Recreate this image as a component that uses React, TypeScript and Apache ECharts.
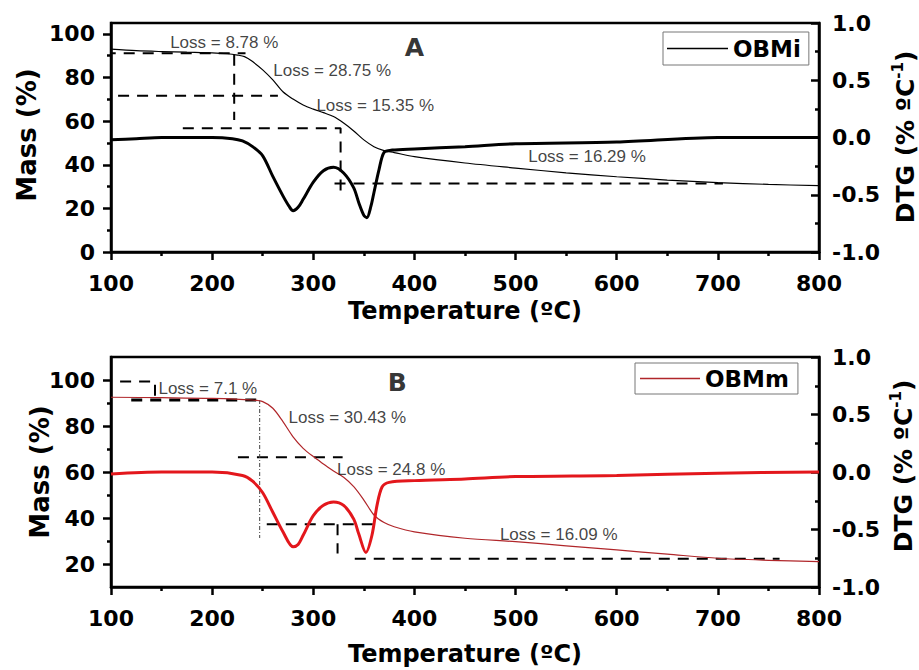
import React, { useEffect, useRef } from "react";
import * as echarts from "echarts";

// ---------- data ----------
const tempMin = 100;
const tempMax = 800;

// Panel A – OBMi
const tgA: [number, number][] = [
  [100, 93.0], [125, 92.3], [150, 91.9], [175, 91.6], [200, 91.3], [215, 90.9], [225, 90.3],
  [232, 89.6], [240, 87.3], [250, 83.5], [260, 78.9], [270, 73.5], [280, 70.1], [290, 67.4],
  [300, 65.5], [310, 63.9], [320, 62.1], [330, 59.1], [340, 55.5], [350, 51.4], [360, 48.3],
  [370, 46.5], [380, 45.6], [400, 43.7], [450, 40.8], [500, 38.5], [550, 36.3], [600, 34.5],
  [650, 33.0], [700, 31.8], [750, 31.0], [800, 30.4],
];
const dtgA: [number, number][] = [
  [100, -0.02], [125, -0.01], [150, 0.0], [175, 0.0], [200, 0.0], [220, -0.01], [230, -0.03],
  [240, -0.08], [250, -0.16], [260, -0.34], [270, -0.51], [276, -0.6], [280, -0.64], [285, -0.61],
  [290, -0.54], [300, -0.39], [310, -0.29], [320, -0.26], [330, -0.31], [340, -0.44], [345, -0.57],
  [350, -0.68], [353, -0.7], [357, -0.6], [360, -0.48], [365, -0.28], [370, -0.13], [378, -0.11],
  [400, -0.1], [450, -0.08], [500, -0.055], [600, -0.04], [700, 0.0], [800, 0.0],
];

// Panel B – OBMm
const tgB: [number, number][] = [
  [100, 92.5], [150, 92.3], [200, 92.0], [240, 91.3], [250, 90.6], [260, 87.7], [270, 81.9],
  [280, 75.3], [290, 70.3], [300, 66.7], [310, 63.5], [320, 60.4], [330, 57.7], [340, 53.6],
  [350, 47.8], [360, 41.3], [370, 38.0], [380, 36.2], [400, 34.0], [450, 31.2], [500, 29.7],
  [550, 27.9], [600, 26.1], [650, 24.3], [700, 22.5], [750, 21.6], [800, 21.0],
];
const dtgB: [number, number][] = [
  [100, -0.017], [150, 0.0], [200, 0.0], [230, -0.03], [240, -0.08], [250, -0.18], [260, -0.35],
  [270, -0.52], [280, -0.65], [285, -0.63], [290, -0.55], [300, -0.38], [310, -0.29], [320, -0.26],
  [330, -0.29], [340, -0.41], [345, -0.54], [352, -0.7], [358, -0.55], [363, -0.29], [368, -0.13],
  [375, -0.09], [400, -0.075], [450, -0.06], [500, -0.04], [600, -0.03], [700, -0.01], [800, 0.0],
];

// step-construction lines (temperature, mass %)
const guidesA: [number, number][][] = [
  [[75, 91.1], [233, 91.1]],
  [[221.8, 90.4], [221.8, 60.5]],
  [[107, 71.6], [265, 71.6]],
  [[171, 56.7], [327, 56.7], [327, 27.7]],
  [[321, 31.4], [705, 31.4]],
];
const strikeA: [number, number][] = [[37.7, 100], [100, 100]];
const guidesB: [number, number][][] = [
  [[109, 99.3], [143.5, 99.3], [143.5, 91.3]],
  [[225.5, 66.4], [329, 66.4]],
  [[254, 37.3], [366, 37.3]],
  [[324, 37.3], [324, 24.6]],
  [[341, 22.3], [761, 22.3]],
];
const guideB2: [number, number][] = [[120, 91.3], [247, 91.3]];
const dashDotB: [number, number][] = [[247, 91.3], [247, 31.3]];

// annotations [temperature, mass, text]
const lossA: [number, number, string][] = [
  [158, 95.9, "Loss = 8.78 %"],
  [260, 83.0, "Loss = 28.75 %"],
  [302.6, 67.4, "Loss = 15.35 %"],
  [512, 43.6, "Loss = 16.29 %"],
];
const lossB: [number, number, string][] = [
  [146.4, 96.1, "Loss = 7.1 %"],
  [275, 83.9, "Loss = 30.43 %"],
  [323, 60.9, "Loss = 24.8 %"],
  [484, 33.0, "Loss = 16.09 %"],
];
const panelA: [number, number, string][] = [[400, 93.6, "A"]];
const panelB: [number, number, string][] = [[383, 99.1, "B"]];

const massTicksA = [0, 20, 40, 60, 80, 100];
const massMinorA = [10, 30, 50, 70, 90];
const massTicksB = [20, 40, 60, 80, 100];
const massMinorB = [30, 50, 70, 90];

// ---------- styles ----------
const BOLD_FAMILY = "DejaVu Sans";
const tickFont = { fontFamily: BOLD_FAMILY, fontWeight: "bold" as const, fontSize: 22, color: "#000" };
const axisLineStyle = { color: "#000", width: 2.5 };

function xAxisFor(i: number, gap: number) {
  return {
    type: "value",
    gridIndex: i,
    min: tempMin,
    max: tempMax,
    interval: 100,
    axisLine: { show: true, onZero: false, lineStyle: axisLineStyle },
    axisTick: { show: true, length: 8, lineStyle: { color: "#000", width: 2.5 } },
    minorTick: { show: true, splitNumber: 2, length: 4, lineStyle: { color: "#000", width: 2.5 } },
    splitLine: { show: false },
    axisLabel: { ...tickFont, margin: 20 },
    name: "Temperature (ºC)",
    nameLocation: "middle",
    nameGap: gap,
    nameTextStyle: { fontFamily: BOLD_FAMILY, fontWeight: "bold", fontSize: 24, color: "#000" },
  };
}

function massAxis(i: number, min: number, max: number, interval: number, ticks: number[]) {
  return {
    type: "value",
    gridIndex: i,
    position: "left",
    min,
    max,
    interval,
    axisLine: { show: true, onZero: false, lineStyle: axisLineStyle },
    axisTick: { show: true, length: 8, customValues: ticks, lineStyle: { color: "#000", width: 2.5 } },
    axisLabel: { ...tickFont, margin: 16, customValues: ticks },
    splitLine: { show: false },
  };
}
function minorAxis(i: number, min: number, max: number, interval: number, ticks: number[]) {
  return {
    type: "value",
    gridIndex: i,
    position: "left",
    min,
    max,
    interval,
    axisLine: { show: false, onZero: false },
    axisTick: { show: true, length: 4, customValues: ticks, lineStyle: { color: "#000", width: 2.5 } },
    axisLabel: { show: false },
    splitLine: { show: false },
  };
}
function dtgAxis(i: number) {
  return {
    type: "value",
    gridIndex: i,
    position: "right",
    min: -1,
    max: 1,
    interval: 0.5,
    axisLine: { show: true, onZero: false, lineStyle: axisLineStyle },
    axisTick: { show: true, inside: true, length: 8, lineStyle: { color: "#000", width: 2.5 } },
    minorTick: { show: true, splitNumber: 2, length: 4, lineStyle: { color: "#000", width: 2.5 } },
    axisLabel: { ...tickFont, margin: 13, formatter: (v: number) => v.toFixed(1) },
    splitLine: { show: false },
  };
}

function guideSeries(data: [number, number][], xi: number, yi: number, extra: any = {}) {
  return {
    type: "line",
    xAxisIndex: xi,
    yAxisIndex: yi,
    data,
    symbol: "none",
    silent: true,
    clip: false,
    lineStyle: { color: "#000", width: 2, type: [11, 8], ...extra },
    z: 3,
  };
}

function textSeries(data: [number, number, string][], xi: number, yi: number, label: any) {
  return {
    type: "scatter",
    xAxisIndex: xi,
    yAxisIndex: yi,
    data,
    symbolSize: 1,
    itemStyle: { color: "rgba(0,0,0,0)" },
    silent: true,
    z: 5,
    label: { show: true, formatter: (p: any) => p.data[2], ...label },
  };
}

const lossLabel = {
  position: "right",
  distance: 0,
  fontFamily: "Liberation Sans",
  fontSize: 17,
  color: "#111",
};
const letterLabel = {
  position: "inside",
  fontFamily: BOLD_FAMILY,
  fontWeight: "bold",
  fontSize: 25,
  color: "#000",
};

const titleFont = `bold 26px "${BOLD_FAMILY}"`;
function dtgTitle(x: number, y: number) {
  return {
    type: "text",
    x,
    y,
    rotation: Math.PI / 2,
    style: {
      text: "{a|DTG (% ºC}{s|-1}{a|)}",
      align: "center",
      verticalAlign: "middle",
      rich: {
        a: { fontFamily: BOLD_FAMILY, fontWeight: "bold", fontSize: 25, fill: "#000", lineHeight: 30 },
        s: { fontFamily: BOLD_FAMILY, fontWeight: "bold", fontSize: 15, fill: "#000", lineHeight: 18, verticalAlign: "top" },
      },
    },
  };
}

function buildOption() {
  const legendText = { fontFamily: BOLD_FAMILY, fontWeight: "bold", fontSize: 23, color: "#000" };
  return {
    animation: false,
    backgroundColor: "#fff",
    grid: [
      { left: 111, top: 23, width: 708, height: 229, show: true, borderColor: "#000", borderWidth: 2.5, backgroundColor: "transparent" },
      { left: 111, top: 357, width: 708, height: 230, show: true, borderColor: "#000", borderWidth: 2.5, backgroundColor: "transparent" },
    ],
    xAxis: [xAxisFor(0, 47), xAxisFor(1, 55)],
    yAxis: [
      massAxis(0, 0, 105, 20, massTicksA),
      dtgAxis(0),
      minorAxis(0, 0, 105, 20, massMinorA),
      massAxis(1, 10, 110, 10, massTicksB),
      dtgAxis(1),
      minorAxis(1, 10, 110, 10, massMinorB),
    ],
    legend: [
      {
        data: [{ name: "OBMi", icon: "rect" }],
        left: 663,
        top: 32,
        itemWidth: 61,
        itemHeight: 1.3,
        padding: [5, 8, 5, 4],
        borderColor: "#777",
        borderWidth: 1,
        borderRadius: 0,
        backgroundColor: "#fff",
        textStyle: legendText,
        selectedMode: false,
      },
      {
        data: [{ name: "OBMm", icon: "rect" }],
        left: 635,
        top: 363,
        itemWidth: 60,
        itemHeight: 1.3,
        padding: [4, 9, 4, 5],
        borderColor: "#777",
        borderWidth: 1,
        borderRadius: 0,
        backgroundColor: "#fff",
        textStyle: legendText,
        selectedMode: false,
      },
    ],
    graphic: [
      { type: "text", x: 27, y: 135, rotation: Math.PI / 2, style: { text: "Mass (%)", font: titleFont, fill: "#000", align: "center", verticalAlign: "middle" } },
      { type: "text", x: 40, y: 472, rotation: Math.PI / 2, style: { text: "Mass (%)", font: titleFont, fill: "#000", align: "center", verticalAlign: "middle" } },
      dtgTitle(905, 137),
      dtgTitle(903, 466),
    ],
    series: [
      // Panel A
      { name: "OBMi", type: "line", xAxisIndex: 0, yAxisIndex: 0, data: tgA, symbol: "none", smooth: 0.3, lineStyle: { color: "#000", width: 1.2 }, itemStyle: { color: "#000" }, z: 4 },
      { name: "OBMi DTG", type: "line", xAxisIndex: 0, yAxisIndex: 1, data: dtgA, symbol: "none", smooth: 0.3, lineStyle: { color: "#000", width: 3 }, z: 4 },
      ...guidesA.map((g) => guideSeries(g, 0, 0)),
      guideSeries(strikeA, 0, 0, { type: "solid", width: 2 }),
      textSeries(lossA, 0, 0, lossLabel),
      textSeries(panelA, 0, 0, letterLabel),
      // Panel B
      { name: "OBMm", type: "line", xAxisIndex: 1, yAxisIndex: 3, data: tgB, symbol: "none", smooth: 0.3, lineStyle: { color: "#b0262a", width: 1.2 }, itemStyle: { color: "#b0262a" }, z: 4 },
      { name: "OBMm DTG", type: "line", xAxisIndex: 1, yAxisIndex: 4, data: dtgB, symbol: "none", smooth: 0.3, lineStyle: { color: "#e3171c", width: 3 }, z: 4 },
      ...guidesB.map((g) => guideSeries(g, 1, 3)),
      guideSeries(guideB2, 1, 3, { width: 3 }),
      guideSeries(dashDotB, 1, 3, { type: [4, 2, 1, 2], width: 1, color: "#444" }),
      textSeries(lossB, 1, 3, lossLabel),
      textSeries(panelB, 1, 3, letterLabel),
    ],
  };
}

export default function App() {
  const ref = useRef<HTMLDivElement>(null);
  useEffect(() => {
    if (!ref.current) return;
    const chart = echarts.init(ref.current, null, { renderer: "svg" });
    chart.setOption(buildOption() as any);
    return () => chart.dispose();
  }, []);
  return (
    <div
      ref={ref}
      style={{ position: "absolute", left: 0, top: 0, width: 919, height: 670, background: "#fff" }}
    />
  );
}
